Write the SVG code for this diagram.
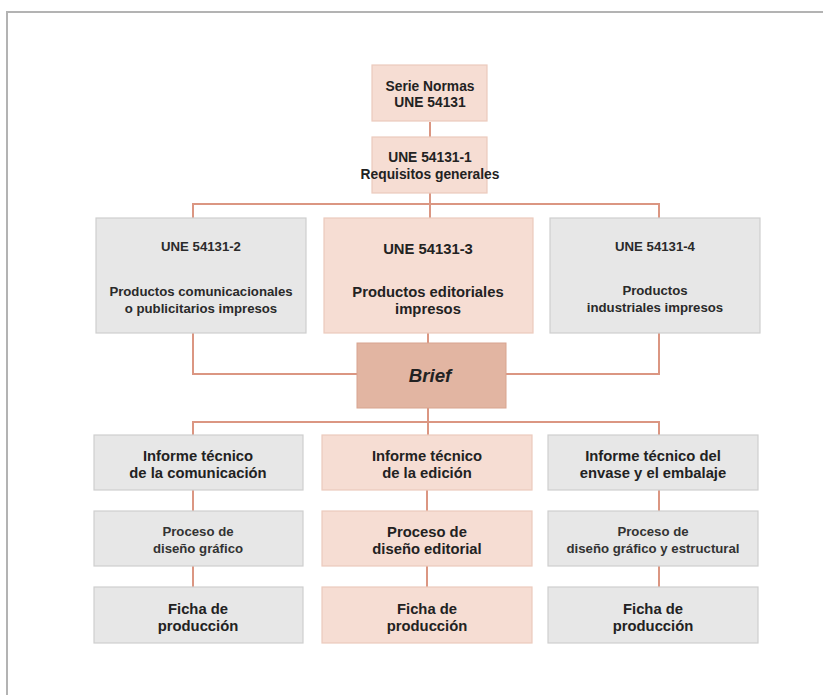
<svg xmlns="http://www.w3.org/2000/svg" width="823" height="695" viewBox="0 0 823 695">
  <style>
    text { font-family: "Liberation Sans", Arial, sans-serif; fill: #222; text-anchor: middle; font-weight: bold; }
    .pink { fill: #f6ddd3; stroke: #eccabd; stroke-width: 1.2; }
    .gray { fill: #e7e7e7; stroke: #cfcfcf; stroke-width: 1.2; }
    .brief { fill: #e2b5a2; stroke: #d8a48f; stroke-width: 1; }
    .conn { fill: none; stroke: #db9682; stroke-width: 2; }
    .s12 { font-size: 13.2px; fill: #2a2a2a; }
    .s13 { font-size: 13.8px; }
    .s14 { font-size: 14.8px; }
    .light { font-size: 13.2px; fill: #333; }
  </style>

  <rect width="823" height="695" fill="#ffffff"/>
  <!-- outer frame -->
  <path d="M7 695 V12 H823" fill="none" stroke="#b3b3b3" stroke-width="2"/>

  <!-- connectors -->
  <g id="connectors" class="conn">
    <path d="M430 122 V137"/>
    <path d="M430 193 V218"/>
    <path d="M193 218 V204 H659 V218"/>
    <path d="M428 333 V343"/>
    <path d="M193 333 V374 H357"/>
    <path d="M659 333 V374 H506"/>
    <path d="M428 408 V435"/>
    <path d="M193 435 V422 H659 V435"/>
    <path d="M193 490 V511 M193 566 V587"/>
    <path d="M427 490 V511 M427 566 V587"/>
    <path d="M659 490 V511 M659 566 V587"/>
  </g>

  <g id="serie">
    <rect class="pink" x="372" y="65" width="115" height="56"/>
    <text class="s13" x="430" y="91">Serie Normas</text>
    <text class="s13" x="430" y="107">UNE 54131</text>
  </g>
  <g id="une1">
    <rect class="pink" x="372" y="137" width="115" height="56"/>
    <text class="s13" x="430" y="162">UNE 54131-1</text>
    <text class="s13" x="430" y="179">Requisitos generales</text>
  </g>

  <g id="une2">
    <rect class="gray" x="96" y="218" width="210" height="115"/>
    <text class="s12" x="201" y="251">UNE 54131-2</text>
    <text class="s12" x="201" y="296">Productos comunicacionales</text>
    <text class="s12" x="201" y="313">o publicitarios impresos</text>
  </g>
  <g id="une3">
    <rect class="pink" x="324" y="218" width="209" height="115"/>
    <text class="s14" x="428" y="254">UNE 54131-3</text>
    <text class="s14" x="428" y="297">Productos editoriales</text>
    <text class="s14" x="428" y="314">impresos</text>
  </g>
  <g id="une4">
    <rect class="gray" x="550" y="218" width="210" height="115"/>
    <text class="s12" x="655" y="251">UNE 54131-4</text>
    <text class="s12" x="655" y="295">Productos</text>
    <text class="s12" x="655" y="312">industriales impresos</text>
  </g>

  <g id="brief">
    <rect class="brief" x="357" y="343" width="149" height="65"/>
    <text x="430" y="382" font-size="18.7" font-style="italic">Brief</text>
  </g>

  <g id="informe-com">
    <rect class="gray" x="94" y="435" width="209" height="55"/>
    <text class="s14" x="198" y="461">Informe técnico</text>
    <text class="s14" x="198" y="478">de la comunicación</text>
  </g>
  <g id="informe-ed">
    <rect class="pink" x="322" y="435" width="210" height="55"/>
    <text class="s14" x="427" y="461">Informe técnico</text>
    <text class="s14" x="427" y="478">de la edición</text>
  </g>
  <g id="informe-env">
    <rect class="gray" x="548" y="435" width="210" height="55"/>
    <text class="s14" x="653" y="461">Informe técnico del</text>
    <text class="s14" x="653" y="478">envase y el embalaje</text>
  </g>

  <g id="proceso-graf">
    <rect class="gray" x="94" y="511" width="209" height="55"/>
    <text class="light" x="198" y="536">Proceso de</text>
    <text class="light" x="198" y="553">diseño gráfico</text>
  </g>
  <g id="proceso-ed">
    <rect class="pink" x="322" y="511" width="210" height="55"/>
    <text class="s14" x="427" y="537">Proceso de</text>
    <text class="s14" x="427" y="554">diseño editorial</text>
  </g>
  <g id="proceso-env">
    <rect class="gray" x="548" y="511" width="210" height="55"/>
    <text class="light" x="653" y="536">Proceso de</text>
    <text class="light" x="653" y="553">diseño gráfico y estructural</text>
  </g>

  <g id="ficha-com">
    <rect class="gray" x="94" y="587" width="209" height="56"/>
    <text class="s14" x="198" y="614">Ficha de</text>
    <text class="s14" x="198" y="631">producción</text>
  </g>
  <g id="ficha-ed">
    <rect class="pink" x="322" y="587" width="210" height="56"/>
    <text class="s14" x="427" y="614">Ficha de</text>
    <text class="s14" x="427" y="631">producción</text>
  </g>
  <g id="ficha-env">
    <rect class="gray" x="548" y="587" width="210" height="56"/>
    <text class="s14" x="653" y="614">Ficha de</text>
    <text class="s14" x="653" y="631">producción</text>
  </g>
</svg>
